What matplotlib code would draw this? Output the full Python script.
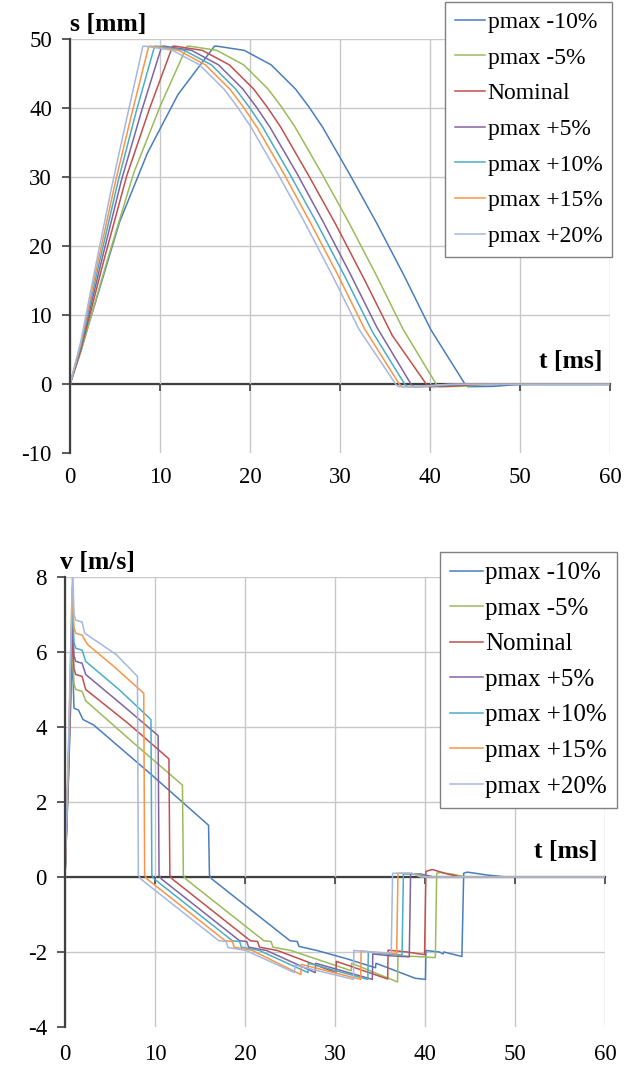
import matplotlib
matplotlib.use('Agg')
import matplotlib.pyplot as plt
import matplotlib.transforms as mtransforms

plt.rcParams['font.family'] = ['Liberation Serif', 'DejaVu Serif']
plt.rcParams['axes.unicode_minus'] = False

labels = ['pmax -10%', 'pmax -5%', 'Nominal', 'pmax +5%', 'pmax +10%', 'pmax +15%', 'pmax +20%']
colors = ['#4a7ebb', '#9bbb59', '#c0504d', '#8064a2', '#4bacc6', '#f79646', '#a5b8e0']

x_ticks = [0, 10, 20, 30, 40, 50, 60]
s_ticks = [-10, 0, 10, 20, 30, 40, 50]
v_ticks = [-4, -2, 0, 2, 4, 6, 8]

# ---------------- displacement s [mm] vs t [ms] ----------------
s_t_m10 = [0, 1.0, 3.2, 5.5, 8.6, 12.0, 16.05, 16.35, 19.35, 22.35, 25.05, 26.55, 28.05, 31.05, 34.1, 37.1, 40.1, 43.9, 44.2, 47.0, 50.0, 60]
s_m10 = [0, 4.0, 13.5, 23.5, 33.5, 42.0, 49.0, 49.0, 48.4, 46.3, 42.8, 40.2, 37.3, 30.5, 23.3, 15.8, 7.9, 0.0, -0.35, -0.3, 0.0, 0.0]

s_t_m5 = [0, 1.2, 4.15, 7.1, 10.05, 13.0, 13.3, 16.3, 19.3, 22.0, 23.5, 25.0, 28.0, 31.0, 34.0, 37.0, 40.7, 41.0, 43.5, 46.5, 60]
s_m5 = [0, 4.7, 18.0, 30.7, 40.4, 49.0, 49.0, 48.4, 46.3, 42.8, 40.2, 37.3, 30.5, 23.4, 15.9, 8.0, 0.0, -0.35, -0.3, 0.0, 0.0]

s_t_nom = [0, 1.2, 3.75, 6.3, 8.85, 11.4, 11.7, 14.7, 17.7, 20.4, 21.9, 23.4, 26.5, 29.6, 32.7, 35.8, 39.6, 39.9, 42.0, 45.5, 60]
s_nom = [0, 5.0, 17.9, 30.2, 40.0, 49.0, 49.0, 48.4, 46.3, 42.8, 40.2, 37.3, 30.3, 23.0, 15.2, 7.1, 0.0, -0.35, -0.3, 0.0, 0.0]

s_t_p5 = [0, 1.2, 3.45, 5.7, 7.95, 10.2, 10.5, 13.5, 16.5, 19.2, 20.7, 22.2, 25.2, 28.15, 31.1, 34.1, 37.9, 38.2, 40.5, 44.0, 60]
s_p5 = [0, 5.3, 17.6, 29.5, 39.6, 49.0, 49.0, 48.4, 46.3, 42.8, 40.2, 37.3, 30.6, 23.5, 16.1, 8.25, 0.0, -0.35, -0.3, 0.0, 0.0]

s_t_p10 = [0, 1.2, 3.25, 5.3, 7.35, 9.4, 9.7, 12.7, 15.7, 18.4, 19.9, 21.4, 24.45, 27.5, 30.55, 33.6, 37.2, 37.5, 39.8, 43.0, 60]
s_p10 = [0, 5.6, 17.6, 29.2, 39.5, 49.0, 49.0, 48.4, 46.3, 42.8, 40.2, 37.3, 30.4, 23.2, 15.6, 7.6, 0.0, -0.35, -0.3, 0.0, 0.0]

s_t_p15 = [0, 1.2, 3.1, 5.0, 6.9, 8.75, 9.05, 12.05, 15.05, 17.75, 19.25, 20.75, 23.75, 26.7, 29.7, 32.7, 36.6, 36.9, 39.2, 42.5, 60]
s_p15 = [0, 5.9, 17.7, 29.1, 39.4, 49.0, 49.0, 48.4, 46.3, 42.8, 40.2, 37.3, 30.55, 23.45, 16.0, 8.1, 0.0, -0.35, -0.3, 0.0, 0.0]

s_t_p20 = [0, 1.2, 2.9, 4.6, 6.35, 8.1, 8.4, 11.4, 14.4, 17.1, 18.6, 20.1, 23.1, 26.1, 29.1, 32.1, 36.2, 36.5, 38.8, 42.0, 60]
s_p20 = [0, 6.2, 17.5, 28.4, 38.8, 49.0, 49.0, 48.4, 46.3, 42.8, 40.2, 37.3, 30.5, 23.4, 15.9, 8.0, 0.0, -0.35, -0.3, 0.0, 0.0]

# ---------------- velocity v [m/s] vs t [ms] ----------------
v_t_m10 = [0, 0.4, 0.8, 1.0, 1.5, 2.0, 3.2, 9.5, 15.95, 16.05, 16.3, 25.0, 25.8, 26.0, 28.0, 31.3, 34.5, 34.55, 38.9, 40.05, 40.1, 41.6, 42.0, 42.1, 44.1, 44.3, 44.7, 47.0, 49.0, 60]
v_m10 = [0, 2.7, 6.0, 4.5, 4.45, 4.2, 4.05, 2.75, 1.38, 0.05, -0.05, -1.7, -1.72, -1.85, -1.96, -2.18, -2.42, -2.3, -2.7, -2.73, -1.96, -2.0, -2.05, -2.0, -2.12, 0.1, 0.13, 0.05, 0.0, 0.0]

v_t_m5 = [0, 0.4, 0.8, 1.0, 1.2, 1.9, 2.3, 7.5, 13.05, 13.15, 13.4, 22.1, 22.9, 23.1, 25.1, 31.8, 31.85, 36.95, 37.0, 39.0, 41.15, 41.3, 41.6, 43.0, 44.5, 60]
v_m5 = [0, 2.8, 6.25, 5.15, 5.0, 4.95, 4.7, 3.6, 2.45, 0.05, -0.05, -1.7, -1.72, -1.87, -1.96, -2.5, -2.3, -2.8, -2.1, -2.12, -2.15, 0.1, 0.12, 0.08, 0.0, 0.0]

v_t_nom = [0, 0.4, 0.8, 1.0, 1.2, 1.9, 2.3, 7.0, 11.55, 11.65, 11.9, 20.6, 21.4, 21.6, 23.6, 30.1, 30.15, 35.85, 35.9, 38.0, 39.95, 40.1, 40.8, 42.5, 44.0, 60]
v_nom = [0, 2.9, 6.55, 5.55, 5.4, 5.35, 5.0, 4.1, 3.15, 0.05, -0.05, -1.7, -1.72, -1.87, -1.96, -2.55, -2.25, -2.72, -1.95, -2.0, -2.07, 0.15, 0.2, 0.08, 0.0, 0.0]

v_t_p5 = [0, 0.4, 0.8, 1.0, 1.2, 1.9, 2.3, 6.3, 10.35, 10.45, 10.7, 19.4, 20.2, 20.4, 22.4, 27.8, 27.85, 34.15, 34.2, 36.0, 38.25, 38.4, 39.5, 41.0, 60]
v_p5 = [0, 3.1, 6.95, 5.9, 5.75, 5.7, 5.4, 4.6, 3.77, 0.05, -0.05, -1.7, -1.72, -1.87, -1.96, -2.55, -2.3, -2.73, -2.05, -2.1, -2.13, 0.08, 0.08, 0.0, 0.0]

v_t_p10 = [0, 0.4, 0.8, 1.0, 1.2, 1.9, 2.3, 6.0, 9.55, 9.65, 9.9, 18.6, 19.4, 19.6, 21.6, 27.0, 27.05, 33.65, 33.7, 35.5, 37.45, 37.6, 39.0, 40.5, 60]
v_p10 = [0, 3.3, 7.35, 6.25, 6.1, 6.05, 5.75, 5.0, 4.2, 0.05, -0.05, -1.7, -1.72, -1.87, -1.96, -2.55, -2.3, -2.73, -2.0, -2.05, -2.08, 0.08, 0.08, 0.0, 0.0]

v_t_p15 = [0, 0.4, 0.8, 1.0, 1.2, 1.9, 2.5, 5.5, 8.75, 8.85, 9.1, 17.8, 18.6, 18.8, 20.8, 26.2, 26.25, 32.85, 32.9, 35.0, 36.85, 37.0, 38.5, 40.0, 60]
v_p15 = [0, 3.5, 7.75, 6.65, 6.5, 6.45, 6.2, 5.6, 4.9, 0.05, -0.05, -1.7, -1.72, -1.87, -1.96, -2.6, -2.33, -2.73, -1.97, -2.02, -2.05, 0.1, 0.1, 0.0, 0.0]

v_t_p20 = [0, 0.4, 0.85, 1.0, 1.2, 1.9, 2.2, 5.7, 8.05, 8.15, 8.4, 17.1, 17.9, 18.1, 20.1, 25.5, 25.55, 32.05, 32.1, 34.0, 36.25, 36.4, 38.5, 39.5, 60]
v_p20 = [0, 3.7, 8.3, 7.0, 6.85, 6.8, 6.5, 5.93, 5.35, 0.05, -0.05, -1.7, -1.72, -1.88, -1.96, -2.55, -2.35, -2.73, -1.96, -2.0, -2.03, 0.1, 0.1, 0.0, 0.0]

s_series = [(s_t_m10, s_m10), (s_t_m5, s_m5), (s_t_nom, s_nom), (s_t_p5, s_p5),
            (s_t_p10, s_p10), (s_t_p15, s_p15), (s_t_p20, s_p20)]
v_series = [(v_t_m10, v_m10), (v_t_m5, v_m5), (v_t_nom, v_nom), (v_t_p5, v_p5),
            (v_t_p10, v_p10), (v_t_p15, v_p15), (v_t_p20, v_p20)]

W, H = 627, 1073
fig = plt.figure(figsize=(W / 100, H / 100), dpi=100)

AX_COL = '#404040'
GRID_COL = '#c8c8c8'
TICK_FS = 16.5
LBL_FS = 18.5


def style_axes(ax, yticks, ylim, ylabel, ylabel_x, ylabel_y, tlabel_y, label_pad):
    ax.set_xlim(0, 60)
    ax.set_ylim(*ylim)
    ax.set_xticks(x_ticks)
    ax.set_yticks(yticks)
    for sp in ('top', 'right'):
        ax.spines[sp].set_visible(False)
    ax.spines['left'].set_color(AX_COL)
    ax.spines['left'].set_linewidth(1.6)
    ax.spines['bottom'].set_position(('data', 0))
    ax.spines['bottom'].set_color(AX_COL)
    ax.spines['bottom'].set_linewidth(1.6)
    ax.spines['bottom'].set_zorder(1.5)
    ax.tick_params(axis='x', labelbottom=False, direction='out', length=5,
                   width=1.2, color=AX_COL)
    ax.tick_params(axis='y', direction='out', length=6, width=1.2,
                   color=AX_COL, labelsize=TICK_FS, pad=7)
    ax.grid(axis='x', color=GRID_COL, lw=1.0, zorder=0)
    for yv in yticks[1:]:
        ax.axhline(yv, color=GRID_COL, lw=1.0, zorder=0)
    sec = ax.secondary_xaxis('bottom')
    sec.set_xticks(x_ticks)
    sec.spines['bottom'].set_visible(False)
    sec.tick_params(length=0, labelsize=TICK_FS, pad=label_pad)
    tr = mtransforms.blended_transform_factory(ax.transAxes, ax.transData)
    ax.text(ylabel_x, ylabel_y, ylabel, transform=tr,
            ha='left', va='baseline', fontsize=LBL_FS, fontweight='bold')
    ax.text(0.985, tlabel_y, 't [ms]', transform=tr,
            ha='right', va='baseline', fontsize=LBL_FS, fontweight='bold')


def add_legend(ax, anchor, fs, spacing):
    leg = ax.legend(loc='upper right', bbox_to_anchor=anchor,
                    bbox_transform=fig.transFigure, fontsize=fs,
                    frameon=True, fancybox=False, framealpha=1.0,
                    edgecolor='#808080', handlelength=1.3, handletextpad=0.1,
                    labelspacing=spacing, borderpad=0.4, borderaxespad=0)
    leg.get_frame().set_linewidth(1.0)
    return leg


# top axes
ax1 = fig.add_axes([70 / W, 1 - 453.3 / H, 540 / W, 414 / H])
for (tt, yy), lab, col in zip(s_series, labels, colors):
    ax1.plot(tt, yy, color=col, lw=1.1, label=lab, zorder=2)
style_axes(ax1, s_ticks, (-10, 50), 's [mm]', 0.0, 51.2, 2.3, 10)
add_legend(ax1, (612 / W, 1 - 2 / H), 17, 0.6)

# bottom axes
ax2 = fig.add_axes([65 / W, 1 - 1027 / H, 540 / W, 450 / H])
for (tt, yy), lab, col in zip(v_series, labels, colors):
    ax2.plot(tt, yy, color=col, lw=1.1, label=lab, zorder=2)
style_axes(ax2, v_ticks, (-4, 8), 'v [m/s]', -0.009, 8.22, 0.5, 12)
add_legend(ax2, (617 / W, 1 - 552 / H), 18, 0.52)

fig.savefig('out.png', dpi=100)
